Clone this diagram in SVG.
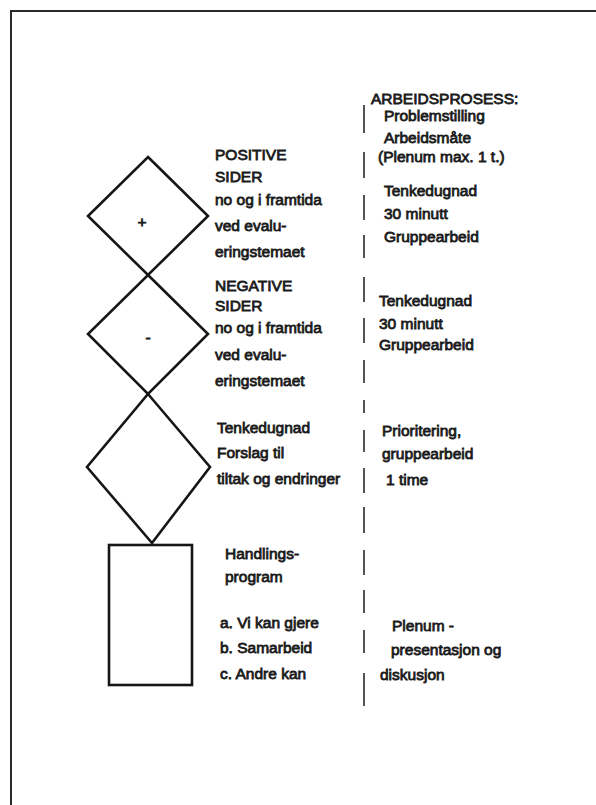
<svg xmlns="http://www.w3.org/2000/svg" width="596" height="805" viewBox="0 0 596 805">
  <style>
    .t { font-family: "Liberation Sans", Arial, sans-serif; font-size: 15.5px; fill: #1a1a1a; stroke: #1a1a1a; stroke-width: 0.8px; }
    .shape { fill: #fff; stroke: #161616; stroke-width: 2.6; stroke-linejoin: miter; }
    .frame { fill: none; stroke: #2a2a2a; stroke-width: 2; }
    .sep { stroke: #2a2a2a; stroke-width: 1.6; }
  </style>
  <rect width="596" height="805" fill="#fff"/>

  <!-- page frame (top and left edges) -->
  <path class="frame" d="M11,805 V11 H596"/>

  <!-- connectors: dashed separator between the two columns -->
  <g id="connectors">
    <line class="sep" x1="364" y1="105" x2="364" y2="133"/>
    <line class="sep" x1="364" y1="152" x2="364" y2="178"/>
    <line class="sep" x1="364" y1="195" x2="364" y2="220"/>
    <line class="sep" x1="364" y1="235" x2="364" y2="258"/>
    <line class="sep" x1="364" y1="277" x2="364" y2="302"/>
    <line class="sep" x1="364" y1="318" x2="364" y2="343"/>
    <line class="sep" x1="364" y1="360" x2="364" y2="383"/>
    <line class="sep" x1="364" y1="400" x2="364" y2="413"/>
    <line class="sep" x1="364" y1="430" x2="364" y2="452"/>
    <line class="sep" x1="364" y1="468" x2="364" y2="493"/>
    <line class="sep" x1="364" y1="507" x2="364" y2="533"/>
    <line class="sep" x1="364" y1="550" x2="364" y2="575"/>
    <line class="sep" x1="364" y1="590" x2="364" y2="613"/>
    <line class="sep" x1="364" y1="630" x2="364" y2="653"/>
    <line class="sep" x1="364" y1="673" x2="364" y2="706"/>
  </g>

  <!-- positive sides -->
  <g id="node-positive">
    <polygon class="shape" points="148,157 208,216 148,275 88,216"/>
    <text class="t" x="142" y="227" text-anchor="middle">+</text>
    <text class="t" x="215" y="160">POSITIVE</text>
    <text class="t" x="215" y="182">SIDER</text>
    <text class="t" x="215" y="205">no og i framtida</text>
    <text class="t" x="215" y="231">ved evalu-</text>
    <text class="t" x="215" y="257">eringstemaet</text>
  </g>

  <!-- negative sides -->
  <g id="node-negative">
    <polygon class="shape" points="148,275 208,334 148,394 88,334"/>
    <text class="t" x="148" y="343" text-anchor="middle">-</text>
    <text class="t" x="215" y="291">NEGATIVE</text>
    <text class="t" x="215" y="311">SIDER</text>
    <text class="t" x="215" y="333">no og i framtida</text>
    <text class="t" x="215" y="360">ved evalu-</text>
    <text class="t" x="215" y="386">eringstemaet</text>
  </g>

  <!-- brainstorm on measures -->
  <g id="node-tiltak">
    <polygon class="shape" points="148,394 210,467 152,543 87,467"/>
    <text class="t" x="217" y="433">Tenkedugnad</text>
    <text class="t" x="217" y="458">Forslag til</text>
    <text class="t" x="217" y="484">tiltak og endringer</text>
  </g>

  <!-- action programme -->
  <g id="node-handling">
    <rect class="shape" x="109" y="545" width="83" height="140"/>
    <text class="t" x="225" y="559">Handlings-</text>
    <text class="t" x="225" y="582">program</text>
    <text class="t" x="220" y="628">a. Vi kan gjere</text>
    <text class="t" x="220" y="653">b. Samarbeid</text>
    <text class="t" x="220" y="679">c. Andre kan</text>
  </g>

  <!-- work process column -->
  <g id="work-process">
    <text class="t" x="371" y="104">ARBEIDSPROSESS:</text>
    <text class="t" x="384" y="121">Problemstilling</text>
    <text class="t" x="384" y="143">Arbeidsmåte</text>
    <text class="t" x="378" y="162">(Plenum max. 1 t.)</text>
    <text class="t" x="384" y="196">Tenkedugnad</text>
    <text class="t" x="384" y="219">30 minutt</text>
    <text class="t" x="384" y="242">Gruppearbeid</text>
    <text class="t" x="379" y="306">Tenkedugnad</text>
    <text class="t" x="379" y="329">30 minutt</text>
    <text class="t" x="379" y="350">Gruppearbeid</text>
    <text class="t" x="382" y="436">Prioritering,</text>
    <text class="t" x="382" y="459">gruppearbeid</text>
    <text class="t" x="386" y="485">1 time</text>
    <text class="t" x="392" y="631">Plenum -</text>
    <text class="t" x="391" y="655">presentasjon og</text>
    <text class="t" x="380" y="680">diskusjon</text>
  </g>
</svg>
